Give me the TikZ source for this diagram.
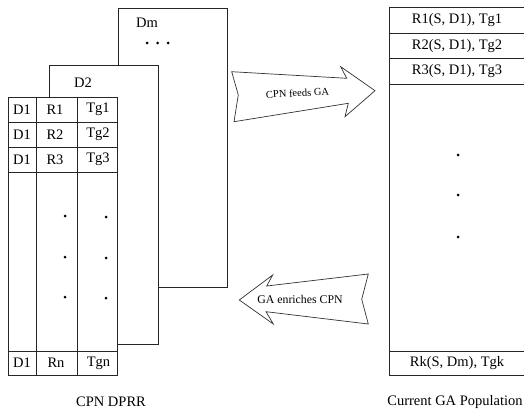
\documentclass[tikz,border=0pt]{standalone}
\usepackage{fontspec}
\setmainfont{Liberation Serif}
\begin{document}
\begin{tikzpicture}[x=1pt,y=-1pt,
  ln/.style={draw=black!85,line width=0.9pt},
  lbl/.style={inner sep=0pt,font=\fontsize{14.5}{17}\selectfont},
  arr/.style={draw=black!80,line width=0.7pt,fill=white},
  dotm/.style={fill=black,circle,inner sep=0pt,minimum size=3pt}]
\useasboundingbox (0,0) rectangle (524,414);
% back sheets
\draw[ln,fill=white] (118,8) rectangle (227,287);
\node[lbl] (dm) at (147,23) {Dm};
\node[dotm] (e1) at (147,43) {};
\node[dotm] (e2) at (157.5,43) {};
\node[dotm] (e3) at (168,43) {};
\draw[ln,fill=white] (49,65) rectangle (158,344);
\node[lbl] (d2) at (83,83) {D2};
% front table
\draw[ln,fill=white] (8,97) rectangle (117,375);
\draw[ln] (36,97) -- (36,375) (77,97) -- (77,375);
\draw[ln] (8,122) -- (117,122) (8,147) -- (117,147) (8,172) -- (117,172) (8,351) -- (117,351);
\foreach \r/\y in {1/109.5,2/134.5,3/159.5}{
  \node[lbl] (a\r) at (22,\y) {D1};
  \node[lbl] (b\r) at (55,\y) {R\r};
  \node[lbl] (c\r) at (98,\y) {Tg\r};
}
\node[lbl] (an) at (22,363) {D1};
\node[lbl] (bn) at (56,363) {Rn};
\node[lbl] (cn) at (98.5,363) {Tgn};
\foreach \y [count=\i] in {216,257,297}{
  \node[dotm] (p\i) at (65,\y) {};
  \node[dotm] (q\i) at (106,\y+1) {};
}
\node[lbl] (cap1) at (111,402) {CPN DPRR};
% right population box
\draw[ln] (524,7.5) -- (389,7.5) -- (389,375) -- (524,375);
\draw[ln] (389,33.5) -- (524,33.5) (389,58.5) -- (524,58.5) (389,84) -- (524,84) (389,351) -- (524,351);
\node[lbl] (g1) at (457,20.5) {R1(S, D1), Tg1};
\node[lbl] (g2) at (457,46) {R2(S, D1), Tg2};
\node[lbl] (g3) at (457,71) {R3(S, D1), Tg3};
\node[lbl] (gk) at (457,363) {Rk(S, Dm), Tgk};
\foreach \y [count=\i] in {155,195,237}{
  \node[dotm] (r\i) at (458,\y) {};
}
\node[lbl] (cap2) at (455,402) {Current GA Population};
% arrows
\draw[arr] (231.7,71.7) -- (346.7,78.3) -- (340.7,66.7) -- (375,90.7) -- (345,116.7) -- (348.3,103.3) -- (234,121.7) -- (238.3,95) -- cycle;
\node[inner sep=0pt,font=\fontsize{10.5}{12}\selectfont,rotate=3] (t1) at (297.5,93) {CPN feeds GA};
\draw[arr] (239.3,300) -- (272.7,275) -- (266.7,286) -- (368.3,274) -- (361.7,299.3) -- (368.3,324) -- (266,311.7) -- (273.3,324) -- cycle;
\node[inner sep=0pt,font=\fontsize{11.8}{13}\selectfont] (t2) at (300,299.5) {GA enriches CPN};
\end{tikzpicture}
\end{document}
